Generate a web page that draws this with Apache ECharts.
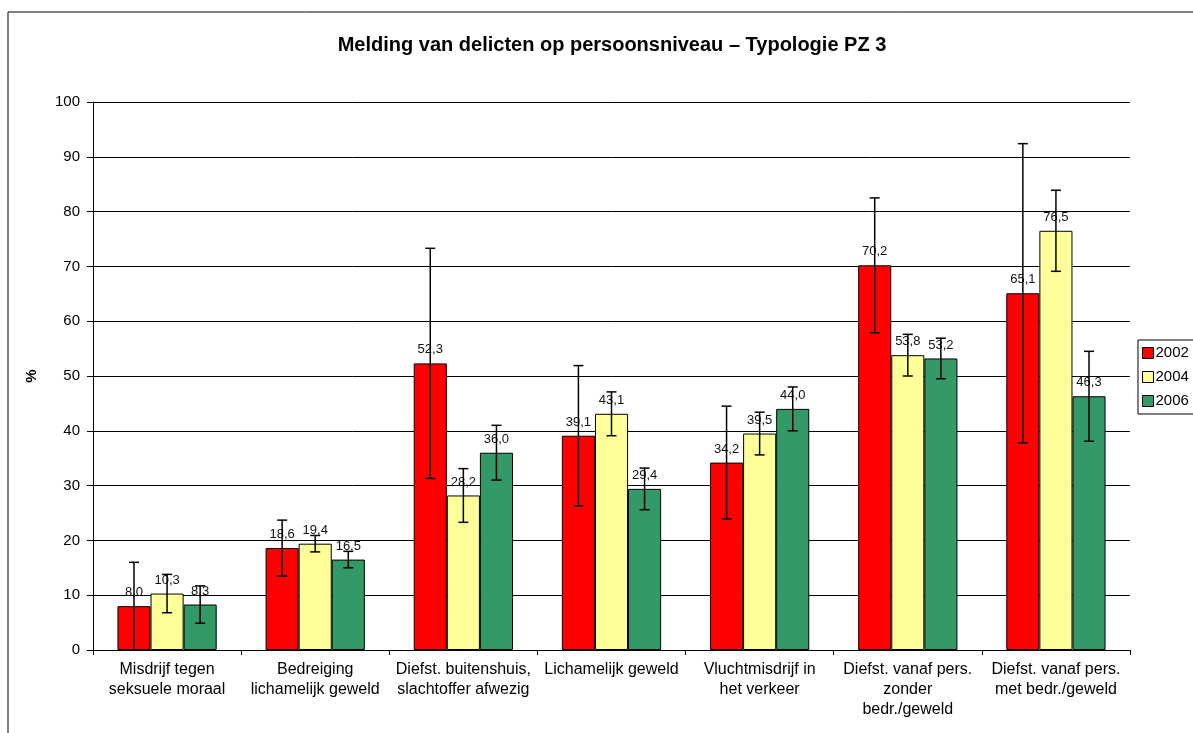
<!DOCTYPE html>
<html>
<head>
<meta charset="utf-8">
<script src="https://cdn.jsdelivr.net/npm/echarts@6/dist/echarts.min.js"></script>
<style>
  html, body { margin: 0; padding: 0; background: #fff; }
  #chart { width: 1193px; height: 733px; }
</style>
</head>
<body>
<div id="chart"></div>
<script>
// categorieen
const categories = [
  'Misdrijf tegen\nseksuele moraal',
  'Bedreiging\nlichamelijk geweld',
  'Diefst. buitenshuis,\nslachtoffer afwezig',
  'Lichamelijk geweld',
  'Vluchtmisdrijf in\nhet verkeer',
  'Diefst. vanaf pers.\nzonder\nbedr./geweld',
  'Diefst. vanaf pers.\nmet bedr./geweld'
]
const years = ['2002', '2004', '2006']
// percentages
const values2002 = [8.0, 18.6, 52.3, 39.1, 34.2, 70.2, 65.1]
const values2004 = [10.3, 19.4, 28.2, 43.1, 39.5, 53.8, 76.5]
const values2006 = [8.3, 16.5, 36.0, 29.4, 44.0, 53.2, 46.3]
// foutmarge (+/-)
const err2002 = [8.0, 5.1, 21.0, 12.8, 10.3, 12.3, 27.3]
const err2004 = [3.5, 1.5, 4.9, 4.0, 3.9, 3.8, 7.4]
const err2006 = [3.4, 1.5, 5.0, 3.8, 4.0, 3.7, 8.2]
const yTicks = [0, 10, 20, 30, 40, 50, 60, 70, 80, 90, 100]

const colors = ['#FF0000', '#FFFF99', '#339966']
const allValues = [values2002, values2004, values2006]
const allErrors = [err2002, err2004, err2006]
const catGap = 0.33
const fontFam = '"Liberation Sans", Arial, sans-serif'

const chart = echarts.init(document.getElementById('chart'))

function barSeries(i) {
  return {
    name: years[i],
    type: 'bar',
    data: allValues[i],
    barGap: '0%',
    barCategoryGap: (catGap * 100) + '%',
    itemStyle: { color: colors[i], borderColor: '#000', borderWidth: 1 },
    label: {
      show: true,
      position: 'top',
      distance: 7,
      color: '#111',
      fontSize: 13,
      fontFamily: fontFam,
      formatter: p => p.value.toFixed(1).replace('.', ',')
    },
    z: 2
  }
}

// foutbalken
function errorSeries(i) {
  const data = allValues[i].map((v, k) => [k, Math.max(0, v - allErrors[i][k]), v + allErrors[i][k]])
  return {
    type: 'custom',
    name: 'err' + years[i],
    data: data,
    z: 5,
    renderItem: function(params, api) {
      const k = api.value(0)
      const lo = api.coord([k, api.value(1)])
      const hi = api.coord([k, api.value(2)])
      const band = api.size([1, 0])[0]
      const bw = band * (1 - catGap) / 3
      const x = lo[0] + (i - 1) * bw
      const cap = 5
      const st = { stroke: '#000', lineWidth: 1.5 }
      return {
        type: 'group',
        children: [
          { type: 'line', shape: { x1: x, y1: lo[1], x2: x, y2: hi[1] }, style: st },
          { type: 'line', shape: { x1: x - cap, y1: hi[1], x2: x + cap, y2: hi[1] }, style: st },
          { type: 'line', shape: { x1: x - cap, y1: lo[1], x2: x + cap, y2: lo[1] }, style: st }
        ]
      }
    }
  }
}

const option = {
  animation: false,
  textStyle: { fontFamily: fontFam },
  graphic: [
    {
      type: 'rect',
      shape: { x: 8, y: 12, width: 1300, height: 800 },
      style: { fill: 'none', stroke: '#000', lineWidth: 1 },
      z: 0
    },
    {
      type: 'text',
      style: {
        text: 'Melding van delicten op persoonsniveau \u2013 Typologie PZ 3',
        x: 612,
        y: 45,
        textAlign: 'center',
        textVerticalAlign: 'middle',
        font: 'bold 20px "Liberation Sans", Arial, sans-serif',
        fill: '#000'
      }
    }
  ],
  legend: {
    data: years,
    orient: 'vertical',
    left: 1138,
    top: 340,
    itemWidth: 11,
    itemHeight: 11,
    itemGap: 8,
    padding: [5, 6, 5, 4],
    borderColor: '#000',
    borderWidth: 1,
    icon: 'rect',
    itemStyle: { borderColor: '#000', borderWidth: 1 },
    textStyle: { fontSize: 15, lineHeight: 16, color: '#000', padding: [0, 0, 0, -3] }
  },
  grid: { left: 93, right: 63, top: 102, bottom: 83 },
  xAxis: {
    type: 'category',
    data: categories,
    axisLine: { lineStyle: { color: '#000', width: 1 } },
    axisTick: { show: true, length: 5, lineStyle: { color: '#000' } },
    axisLabel: { color: '#000', fontSize: 16, lineHeight: 20, margin: 10, interval: 0 }
  },
  yAxis: {
    type: 'value',
    min: yTicks[0],
    max: yTicks[yTicks.length - 1],
    interval: 10,
    name: '%',
    nameLocation: 'middle',
    nameGap: 54,
    nameRotate: 90,
    nameTextStyle: { fontSize: 15, fontWeight: 'bold', color: '#000' },
    axisLine: { show: true, lineStyle: { color: '#000', width: 1 } },
    axisTick: { show: true, length: 6, lineStyle: { color: '#000' } },
    axisLabel: { color: '#000', fontSize: 15, margin: 13 },
    splitLine: { show: true, lineStyle: { color: '#000', width: 1 } }
  },
  series: [
    barSeries(0), barSeries(1), barSeries(2),
    errorSeries(0), errorSeries(1), errorSeries(2)
  ]
}

chart.setOption(option)
</script>
</body>
</html>
